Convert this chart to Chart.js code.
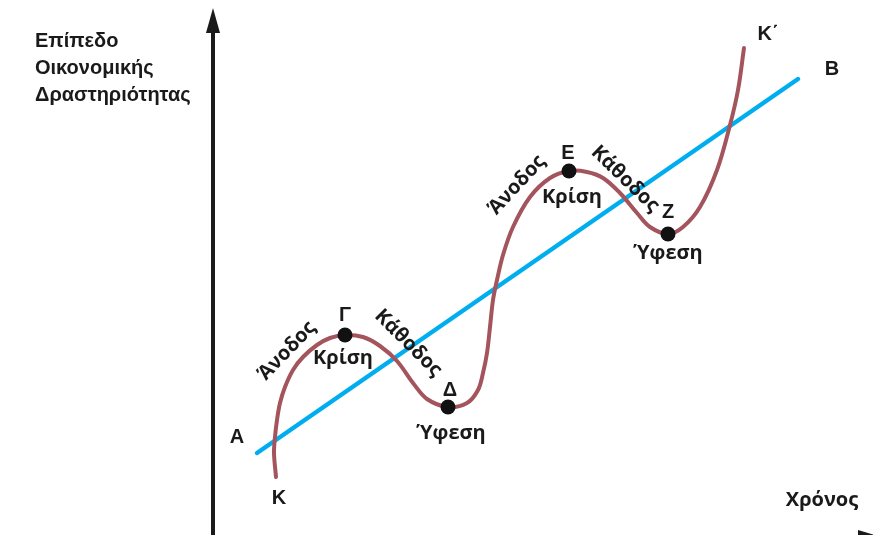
<!DOCTYPE html>
<html><head><meta charset="utf-8">
<script src="https://cdn.jsdelivr.net/npm/chart.js@4"></script>
<style>html,body{margin:0;padding:0;background:#fff;}#wrap{width:873px;height:535px;}</style>
</head><body><div id="wrap"><canvas id="c" width="873" height="535"></canvas></div>
<script>
// Business cycle curve (time, level of economic activity)
const cycleTime  = [276,274,275,277,280,285,293,303,317,330,345,363,380,397,413,427,448,467,478,483,487,490,493,497,503,513,530,550,569,587,603,620,637,650,668,683,700,717,730,738,744];
const cycleLevel = [58, 82, 98, 115,132,148,165,178,190,197,200,198,189,174,152,136,128,132,145,162,182,208,235,255,280,308,338,357,364,363,357,342,322,308,301,308,328,365,410,445,487];
// Long-run trend line A -> B
const trendTime  = [257, 798];
const trendLevel = [82, 456];
// Turning points Γ, Δ, Ε, Ζ
const pointNames = ['Γ','Δ','Ε','Ζ'];
const pointTime  = [345, 448, 569, 668];
const pointLevel = [200, 128, 364, 301];
// Axis position and range
const axisTime = 213;
const axisRange = [0, 873];
const levelRange = [0, 535];

// text annotations: [text, time, level, rotationDeg, kind]
const notes = [
  ['Κ', 279, 37, 0, 'L'], ['Α', 237, 98, 0, 'L'], ['Β', 832, 466, 0, 'L'], ['Κ΄', 768, 501, 0, 'L'],
  ['Γ', 345, 220, 0, 'L'], ['Δ', 450, 145, 0, 'L'], ['Ε', 568, 382, 0, 'L'], ['Ζ', 668, 323, 0, 'L'],
  ['Κρίση', 343, 177, 0, 'W'], ['Ύφεση', 451, 102, 0, 'W'], ['Κρίση', 572, 338, 0, 'W'], ['Ύφεση', 668, 282, 0, 'W'],
  ['Άνοδος', 287, 184, -46, 'W'], ['Κάθοδος', 408, 192, 45, 'W'],
  ['Άνοδος', 517, 350, -47, 'W'], ['Κάθοδος', 625, 356, 44, 'W'],
  ['Χρόνος', 822, 35, 0, 'X']
];
const titleLines = ['Επίπεδο', 'Οικονομικής', 'Δραστηριότητας'];

const xy = (xs, ys) => xs.map((x, i) => ({x, y: ys[i]}));

const decor = {
  id: 'decor',
  afterDatasetsDraw(chart) {
    const {ctx, scales: {x, y}} = chart;
    ctx.save();
    // vertical axis with arrow
    const ax = x.getPixelForValue(axisTime);
    ctx.strokeStyle = '#1a1a1a'; ctx.fillStyle = '#1a1a1a'; ctx.lineWidth = 4;
    ctx.beginPath(); ctx.moveTo(ax, y.getPixelForValue(levelRange[0]) + 2); ctx.lineTo(ax, y.getPixelForValue(505)); ctx.stroke();
    ctx.beginPath();
    ctx.moveTo(ax, y.getPixelForValue(527));
    ctx.lineTo(ax - 7, y.getPixelForValue(502));
    ctx.lineTo(ax + 7, y.getPixelForValue(502));
    ctx.closePath(); ctx.fill();
    // horizontal axis arrow head (mostly below the frame)
    const hy = y.getPixelForValue(-3);
    ctx.beginPath();
    ctx.moveTo(x.getPixelForValue(884), hy);
    ctx.lineTo(x.getPixelForValue(858), hy - 8);
    ctx.lineTo(x.getPixelForValue(858), hy + 8);
    ctx.closePath(); ctx.fill();
    // labels
    ctx.textAlign = 'center'; ctx.textBaseline = 'middle';
    notes.forEach(([t, tx, ty, rot, kind]) => {
      ctx.font = kind === 'L' ? 'bold 20px "Liberation Sans", Arial, sans-serif'
              : 'bold 20px "Open Sans", sans-serif';
      ctx.fillStyle = '#1a1a1a';
      ctx.save();
      ctx.translate(x.getPixelForValue(tx), y.getPixelForValue(ty));
      ctx.rotate(rot * Math.PI / 180);
      ctx.fillText(t, 0, 0);
      ctx.restore();
    });
    // title
    ctx.textAlign = 'left'; ctx.textBaseline = 'alphabetic';
    ctx.font = 'bold 20px "Liberation Sans", Arial, sans-serif';
    titleLines.forEach((t, i) => ctx.fillText(t, x.getPixelForValue(35), y.getPixelForValue(488 - i * 27)));
    ctx.restore();
  }
};

new Chart(document.getElementById('c'), {
  type: 'scatter',
  data: {
    datasets: [
      { label: 'Τάση', data: xy(trendTime, trendLevel), showLine: true, borderColor: '#00aeef', borderWidth: 4.5, pointRadius: 0, borderCapStyle: 'round', order: 3 },
      { label: 'Κύκλος', data: xy(cycleTime, cycleLevel), showLine: true, borderColor: '#a3545c', borderWidth: 4, pointRadius: 0, tension: 0.35, borderCapStyle: 'round', order: 2 },
      { label: 'Σημεία', data: xy(pointTime, pointLevel), pointRadius: 7.5, pointBackgroundColor: '#111', pointBorderWidth: 0, order: 1 }
    ]
  },
  options: {
    responsive: false, animation: false,
    layout: { padding: 0, autoPadding: false },
    plugins: { legend: { display: false }, tooltip: { enabled: false } },
    scales: {
      x: { type: 'linear', min: axisRange[0], max: axisRange[1], display: false },
      y: { type: 'linear', min: levelRange[0], max: levelRange[1], display: false }
    }
  },
  plugins: [decor]
});
</script></body></html>
